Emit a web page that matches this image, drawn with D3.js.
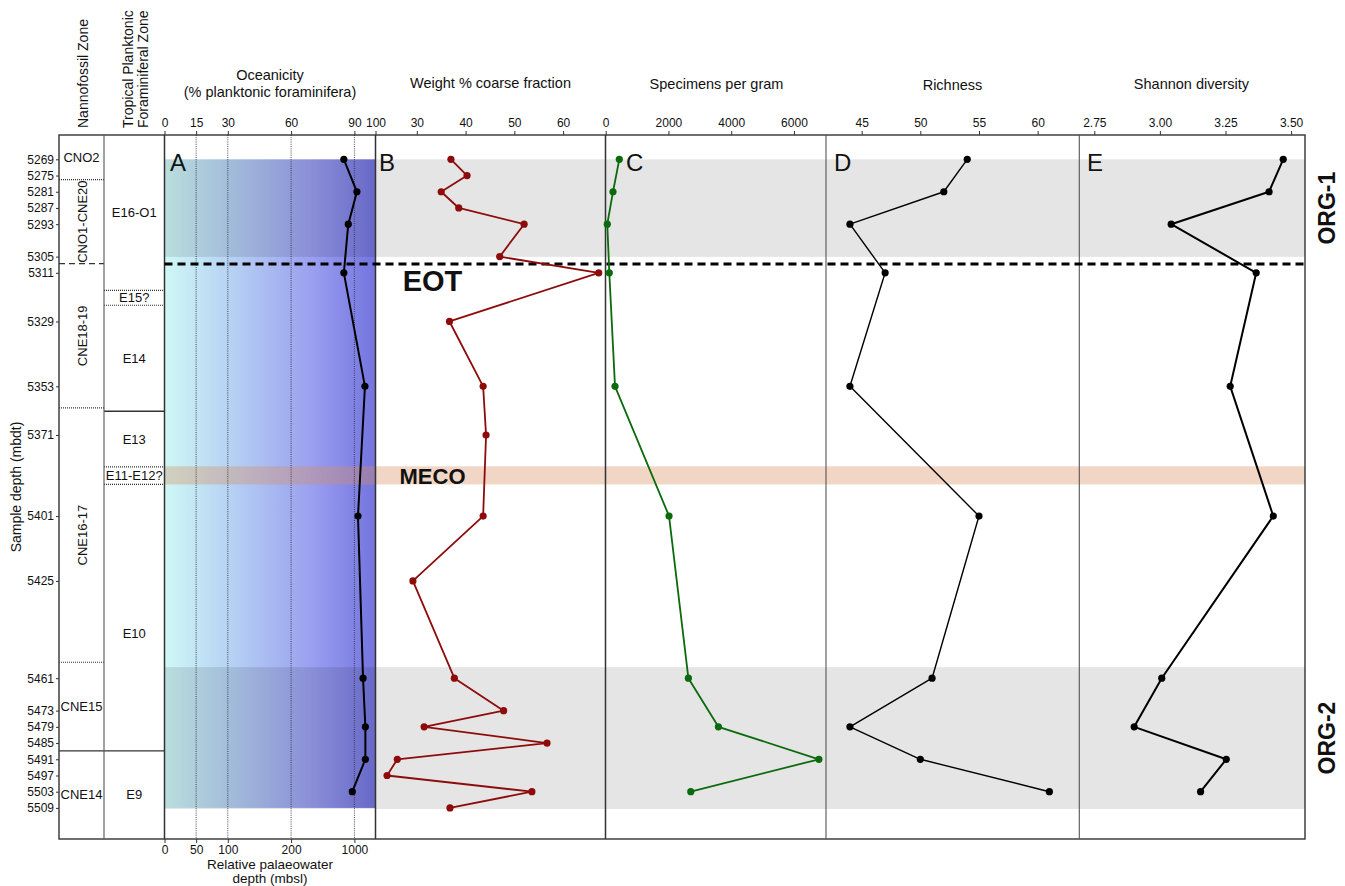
<!DOCTYPE html>
<html>
<head>
<meta charset="utf-8">
<script src="https://cdn.jsdelivr.net/npm/d3@7"></script>
<style>
  body { margin: 0; background: #fff; }
  text { font-family: Arial, "Liberation Sans", sans-serif; fill: #111; }
</style>
</head>
<body>
<svg id="chart" width="1345" height="886"></svg>
<script>
// ---- Sample data (depth in metres below drill tool, mbdt) ----
const sampleDepths = [5269, 5281, 5293, 5311, 5353, 5401, 5461, 5479, 5491, 5503];
const oceanicity = [85, 91.2, 87.1, 85, 95, 91.7, 94.1, 95.2, 95.2, 89];
const specimensPerGram = [434, 233, 51, 115, 297, 2019, 2635, 3592, 6794, 2711];
const richness = [54, 52, 44, 47, 44, 55, 51, 44, 50, 61];
const shannon = [3.47, 3.416, 3.043, 3.367, 3.268, 3.432, 3.007, 2.902, 3.253, 3.155];

const coarseDepths = [5269, 5275, 5281, 5287, 5293, 5305, 5311, 5329, 5353, 5371, 5401, 5425,
                      5461, 5473, 5479, 5485, 5491, 5497, 5503, 5509];
const coarseFraction = [37.0, 40.3, 35.0, 38.6, 52.0, 47.0, 67.3, 36.7, 43.6, 44.2, 43.6, 29.2,
                        37.7, 47.8, 31.5, 56.7, 26.0, 23.9, 53.6, 36.8];

// ---- Tick labels ----
const depthTicks = [5269, 5275, 5281, 5287, 5293, 5305, 5311, 5329, 5353, 5371, 5401, 5425,
                    5461, 5473, 5479, 5485, 5491, 5497, 5503, 5509];
const oceanTicks = [0, 15, 30, 60, 90, 100];
const waterDepthTicks = [0, 15, 30, 60, 90];
const waterDepthLabels = ["0", "50", "100", "200", "1000"];
const coarseTicks = [30, 40, 50, 60];
const specimenTicks = [0, 2000, 4000, 6000];
const richnessTicks = [45, 50, 55, 60];
const shannonTicks = [2.75, 3.00, 3.25, 3.50];

// ---- Biostratigraphic zones (depth ranges) ----
const nannoZones = [
  { name: "CNO2",       top: 5260,   bottom: 5276.5, base: "dotted", rotate: false },
  { name: "CNO1-CNE20", top: 5276.5, bottom: 5307.6, base: "dashed", rotate: true },
  { name: "CNE18-19",   top: 5307.6, bottom: 5361,   base: "dotted", rotate: true },
  { name: "CNE16-17",   top: 5361,   bottom: 5455.1, base: "dotted", rotate: true },
  { name: "CNE15",      top: 5455.1, bottom: 5487.9, base: "solid",  rotate: false },
  { name: "CNE14",      top: 5487.9, bottom: 5520.5, base: "none",   rotate: false }
];
const foramZones = [
  { name: "E16-O1",    top: 5260,   bottom: 5317.5, base: "dotted" },
  { name: "E15?",      top: 5317.5, bottom: 5323,   base: "dotted" },
  { name: "E14",       top: 5323,   bottom: 5362.2, base: "solid" },
  { name: "E13",       top: 5362.2, bottom: 5382.8, base: "dotted" },
  { name: "E11-E12?",  top: 5382.8, bottom: 5389.3, base: "dotted" },
  { name: "E10",       top: 5389.3, bottom: 5487.9, base: "solid", labelDepth: 5444.5 },
  { name: "E9",        top: 5487.9, bottom: 5520.5, base: "none" }
];

// ---- Events and intervals ----
const eotDepth = 5307.7;
const mecoInterval = [5382.6, 5389.3];
const orgIntervals = [
  { name: "ORG-1", top: 5269, bottom: 5305.1 },
  { name: "ORG-2", top: 5456.9, bottom: 5509.4 }
];
const oceanicityShadeRange = [5269, 5509];

// ---- Layout ----
const svg = d3.select("#chart");
const plotTop = 135, plotBottom = 839;
const nannoX = [59, 104], foramX = [104, 164.5];
const panels = {
  A: [164.5, 375.5], B: [375.5, 605.5], C: [605.5, 826], D: [826, 1079.3], E: [1079.3, 1305]
};
const font = 'Arial, "Liberation Sans", sans-serif';

const y = d3.scaleLinear().domain([5260, 5520.5]).range([plotTop, plotBottom]);
const xA = d3.scaleLinear().domain([0, 100]).range(panels.A);
const xB = d3.scaleLinear().domain([21.53, 68.69]).range(panels.B);
const xC = d3.scaleLinear().domain([-6, 7021]).range(panels.C);
const xD = d3.scaleLinear().domain([41.96, 63.55]).range(panels.D);
const xE = d3.scaleLinear().domain([2.6928, 3.553]).range(panels.E);

// ---- Palaeowater depth shading in panel A ----
const defs = svg.append("defs");
const grad = defs.append("linearGradient").attr("id", "oceanGrad")
  .attr("x1", "0%").attr("x2", "100%").attr("y1", "0%").attr("y2", "0%");
[["0%", "#cff8f6"], ["35%", "#b3cdf3"], ["70%", "#9a9ff0"], ["100%", "#7474df"]]
  .forEach(([o, c]) => grad.append("stop").attr("offset", o).attr("stop-color", c));

svg.append("rect")
  .attr("x", xA(0)).attr("width", xA(100) - xA(0))
  .attr("y", y(oceanicityShadeRange[0]))
  .attr("height", y(oceanicityShadeRange[1]) - y(oceanicityShadeRange[0]))
  .attr("fill", "url(#oceanGrad)");

// ---- Shaded intervals (ORG bands, MECO) ----
svg.selectAll("rect.org").data(orgIntervals).join("rect")
  .attr("class", "org")
  .attr("x", panels.A[0]).attr("width", panels.E[1] - panels.A[0])
  .attr("y", d => y(d.top)).attr("height", d => y(d.bottom) - y(d.top))
  .attr("fill", "#000").attr("fill-opacity", 0.1);

svg.append("rect")
  .attr("x", panels.A[0]).attr("width", panels.E[1] - panels.A[0])
  .attr("y", y(mecoInterval[0])).attr("height", y(mecoInterval[1]) - y(mecoInterval[0]))
  .attr("fill", "#d98c5f").attr("fill-opacity", 0.36);

// ---- Dotted reference lines in panel A ----
svg.selectAll("line.refA").data([15, 30, 60, 90]).join("line")
  .attr("x1", d => xA(d)).attr("x2", d => xA(d))
  .attr("y1", plotTop).attr("y2", plotBottom)
  .attr("stroke", "#333").attr("stroke-width", 0.9).attr("stroke-dasharray", "1,1.2");

// ---- Zone columns ----
const dashFor = { dotted: "1,1", dashed: "6,4", solid: null };
function drawZones(zones, xr) {
  zones.forEach(z => {
    if (z.base !== "none") {
      svg.append("line")
        .attr("x1", xr[0]).attr("x2", xr[1])
        .attr("y1", y(z.bottom)).attr("y2", y(z.bottom))
        .attr("stroke", "#333")
        .attr("stroke-width", z.base === "dotted" ? 1.2 : 1.4)
        .attr("stroke-dasharray", dashFor[z.base]);
    }
    const cx = (xr[0] + xr[1]) / 2;
    const cy = y(z.labelDepth !== undefined ? z.labelDepth : (z.top + z.bottom) / 2);
    const t = svg.append("text")
      .attr("font-size", 13).attr("text-anchor", "middle").attr("dominant-baseline", "central")
      .text(z.name);
    if (z.rotate) t.attr("transform", `translate(${cx + 1},${cy}) rotate(-90)`);
    else t.attr("x", cx).attr("y", cy);
  });
}
drawZones(nannoZones, nannoX);
drawZones(foramZones, foramX);

// ---- Frame and panel dividers ----
svg.append("rect")
  .attr("x", nannoX[0]).attr("y", plotTop)
  .attr("width", panels.E[1] - nannoX[0]).attr("height", plotBottom - plotTop)
  .attr("fill", "none").attr("stroke", "#333").attr("stroke-width", 1.4);
[nannoX[1], foramX[1], panels.A[1], panels.B[1], panels.C[1], panels.D[1]].forEach((x, i) => {
  svg.append("line").attr("x1", x).attr("x2", x).attr("y1", plotTop).attr("y2", plotBottom)
    .attr("stroke", i === 0 || i >= 4 ? "#555" : "#333")
    .attr("stroke-width", i === 0 || i >= 4 ? 1.1 : 1.5);
});

// ---- EOT boundary ----
svg.append("line")
  .attr("x1", panels.A[0]).attr("x2", panels.E[1])
  .attr("y1", y(eotDepth)).attr("y2", y(eotDepth))
  .attr("stroke", "#000").attr("stroke-width", 3).attr("stroke-dasharray", "8,5");

// ---- Data series ----
function series(xs, depths, xScale, color, width) {
  const pts = depths.map((d, i) => [xScale(xs[i]), y(d)]);
  svg.append("path").attr("d", d3.line()(pts))
    .attr("fill", "none").attr("stroke", color).attr("stroke-width", width)
    .attr("stroke-linejoin", "round");
  svg.selectAll(null).data(pts).join("circle")
    .attr("cx", d => d[0]).attr("cy", d => d[1]).attr("r", 3.6).attr("fill", color);
}
series(oceanicity, sampleDepths, xA, "#000", 2);
series(coarseFraction, coarseDepths, xB, "#8e0b0b", 1.8);
series(specimensPerGram, sampleDepths, xC, "#0b6a0b", 1.8);
series(richness, sampleDepths, xD, "#000", 1.4);
series(shannon, sampleDepths, xE, "#000", 2);

// ---- Axes ----
function styleAxis(g) {
  g.select(".domain").remove();
  g.selectAll(".tick line").attr("stroke", "#333");
  g.selectAll(".tick text").attr("font-size", 12).attr("font-family", font).attr("fill", "#111");
}
function topAxis(scale, ticks, fmt) {
  svg.append("g").attr("transform", `translate(0,${plotTop})`)
    .call(d3.axisTop(scale).tickValues(ticks).tickSize(4).tickPadding(4).tickFormat(fmt))
    .call(styleAxis);
}
topAxis(xA, oceanTicks, d3.format("d"));
topAxis(xB, coarseTicks, d3.format("d"));
topAxis(xC, specimenTicks, d3.format("d"));
topAxis(xD, richnessTicks, d3.format("d"));
topAxis(xE, shannonTicks, d3.format(".2f"));

svg.append("g").attr("transform", `translate(0,${plotBottom})`)
  .call(d3.axisBottom(xA).tickValues(waterDepthTicks).tickSize(4).tickPadding(2)
    .tickFormat((d, i) => waterDepthLabels[i]))
  .call(styleAxis);

svg.append("g").attr("transform", `translate(${nannoX[0]},0)`)
  .call(d3.axisLeft(y).tickValues(depthTicks).tickSize(3).tickPadding(2).tickFormat(d3.format("d")))
  .call(styleAxis);

// ---- Titles ----
function label(x, yy, txt, size, opts = {}) {
  const t = svg.append("text").attr("font-size", size).attr("text-anchor", opts.anchor || "middle")
    .attr("font-weight", opts.bold ? "bold" : null).text(txt);
  if (opts.rotate) t.attr("transform", `translate(${x},${yy}) rotate(-90)`);
  else t.attr("x", x).attr("y", yy);
  return t;
}
label(270, 80, "Oceanicity", 14.5);
label(270, 97, "(% planktonic foraminifera)", 14.5);
label(490.5, 88, "Weight % coarse fraction", 14.5);
label(716.5, 89, "Specimens per gram", 14.5);
label(952.5, 90, "Richness", 14.5);
label(1191.5, 89, "Shannon diversity", 14.5);
label(270, 868.5, "Relative palaeowater", 13.5);
label(270, 883, "depth (mbsl)", 13.5);

label(87.5, 128, "Nannofossil Zone", 14, { rotate: true, anchor: "start" });
label(132.5, 128, "Tropical Planktonic", 14, { rotate: true, anchor: "start" });
label(148, 128, "Foraminiferal Zone", 14, { rotate: true, anchor: "start" });
label(21, (plotTop + plotBottom) / 2, "Sample depth (mbdt)", 14, { rotate: true });

// Panel letters
[["A", 170], ["B", 379], ["C", 626], ["D", 834], ["E", 1087]].forEach(([l, x]) =>
  label(x, 171, l, 24, { anchor: "start" }));

// Event labels
label(432.5, 291, "EOT", 29, { bold: true });
label(432.5, 484, "MECO", 22, { bold: true });
orgIntervals.forEach(o =>
  label(1335, (y(o.top) + y(o.bottom)) / 2, o.name, 23, { bold: true, rotate: true }));
</script>
</body>
</html>
